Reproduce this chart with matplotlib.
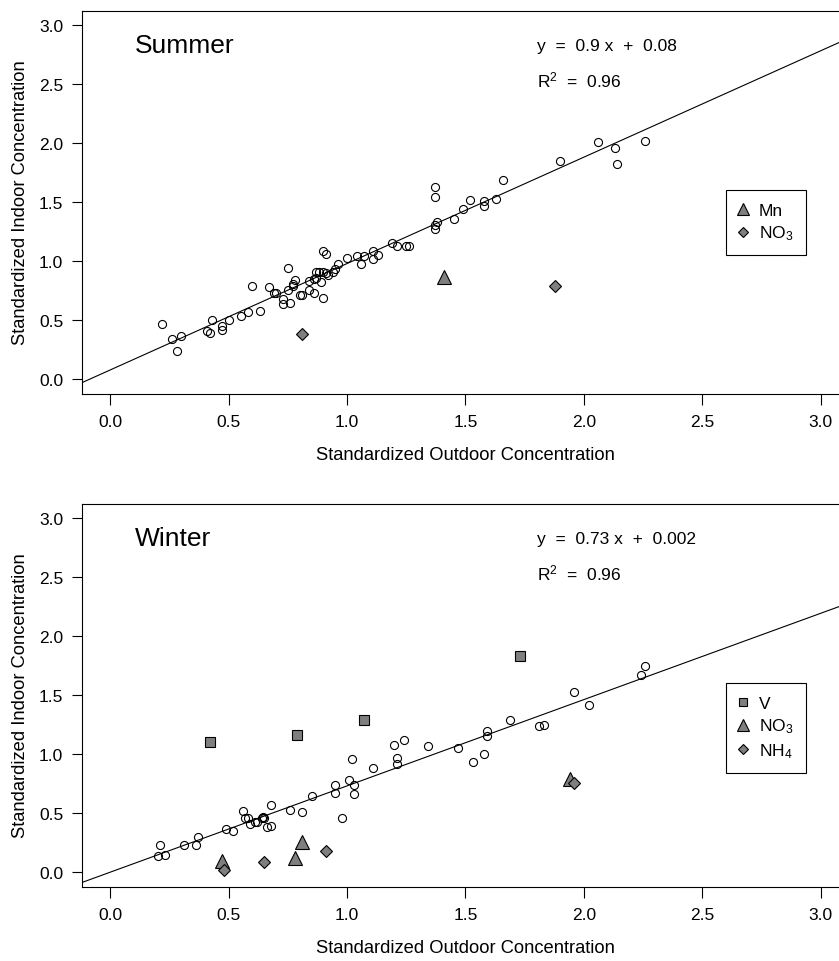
import numpy as np
import matplotlib
matplotlib.use('Agg')
import matplotlib.pyplot as plt

plt.rcParams['font.family'] = ['Liberation Sans', 'DejaVu Sans']
plt.rcParams['mathtext.fontset'] = 'custom'
plt.rcParams['mathtext.rm'] = 'Liberation Sans'
plt.rcParams['mathtext.it'] = 'Liberation Sans:italic'
plt.rcParams['mathtext.default'] = 'regular'

# ---- summer data ----
summer_x = [0.22, 0.26, 0.28, 0.30, 0.41, 0.42, 0.43, 0.47, 0.47, 0.50, 0.55, 0.58,
            0.60, 0.63, 0.67, 0.69, 0.70, 0.73, 0.73, 0.75, 0.75, 0.76, 0.77, 0.77,
            0.78, 0.80, 0.81, 0.84, 0.84, 0.86, 0.86, 0.87, 0.87, 0.88, 0.89, 0.90,
            0.90, 0.91, 0.90, 0.91, 0.92, 0.94, 0.95, 0.96, 1.00, 1.04, 1.06, 1.07,
            1.11, 1.11, 1.13, 1.19, 1.21, 1.25, 1.26, 1.37, 1.37, 1.37, 1.37, 1.38,
            1.45, 1.49, 1.52, 1.58, 1.58, 1.63, 1.66, 1.90, 2.06, 2.13, 2.14, 2.26]
summer_y = [0.47, 0.34, 0.24, 0.37, 0.41, 0.39, 0.50, 0.45, 0.42, 0.50, 0.54, 0.57,
            0.79, 0.58, 0.78, 0.73, 0.73, 0.68, 0.64, 0.94, 0.76, 0.65, 0.79, 0.81,
            0.84, 0.71, 0.71, 0.83, 0.76, 0.85, 0.73, 0.91, 0.86, 0.91, 0.82, 0.91,
            1.09, 1.06, 0.69, 0.90, 0.88, 0.91, 0.93, 0.98, 1.03, 1.04, 0.98, 1.04,
            1.09, 1.02, 1.05, 1.15, 1.13, 1.13, 1.13, 1.63, 1.54, 1.31, 1.27, 1.33,
            1.36, 1.44, 1.52, 1.51, 1.47, 1.53, 1.69, 1.85, 2.01, 1.96, 1.82, 2.02]
summer_mn_x = [1.41]
summer_mn_y = [0.87]
summer_no3_x = [0.81, 1.88]
summer_no3_y = [0.38, 0.79]
summer_fit = (0.9, 0.08)

# ---- winter data ----
winter_x = [0.20, 0.21, 0.23, 0.31, 0.36, 0.37, 0.49, 0.52, 0.56, 0.57, 0.58, 0.59,
            0.61, 0.62, 0.64, 0.645, 0.65, 0.66, 0.68, 0.68, 0.76, 0.81, 0.85, 0.95,
            0.95, 0.98, 1.01, 1.02, 1.03, 1.03, 1.11, 1.20, 1.21, 1.21, 1.24, 1.34,
            1.47, 1.53, 1.58, 1.59, 1.59, 1.69, 1.81, 1.83, 1.96, 2.02, 2.24, 2.26]
winter_y = [0.14, 0.23, 0.15, 0.23, 0.23, 0.30, 0.37, 0.35, 0.52, 0.46, 0.46, 0.41,
            0.43, 0.43, 0.46, 0.47, 0.46, 0.38, 0.39, 0.57, 0.53, 0.51, 0.65, 0.74,
            0.67, 0.46, 0.78, 0.96, 0.74, 0.66, 0.88, 1.08, 0.97, 0.92, 1.12, 1.07,
            1.05, 0.93, 1.00, 1.20, 1.15, 1.29, 1.24, 1.25, 1.53, 1.42, 1.67, 1.75]
winter_v_x = [0.42, 0.79, 1.07, 1.73]
winter_v_y = [1.10, 1.16, 1.29, 1.83]
winter_no3_x = [0.47, 0.78, 0.81, 1.94]
winter_no3_y = [0.10, 0.12, 0.26, 0.79]
winter_nh4_x = [0.48, 0.65, 0.91, 1.96]
winter_nh4_y = [0.02, 0.09, 0.18, 0.76]
winter_fit = (0.73, 0.002)

ticks = [0.0, 0.5, 1.0, 1.5, 2.0, 2.5, 3.0]
fill = '#7f7f7f'

fig = plt.figure(figsize=(8.39, 9.62), dpi=100)
ax_top = fig.add_axes([0.0977, 0.5899, 0.9142, 0.398])
ax_bot = fig.add_axes([0.0977, 0.0774, 0.9142, 0.398])


def setup(ax, season, slope, icpt):
    ax.set_xlim(-0.12, 3.12)
    ax.set_ylim(-0.12, 3.12)
    ax.set_xticks(ticks)
    ax.set_yticks(ticks)
    ax.set_xticklabels(['%.1f' % t for t in ticks])
    ax.set_yticklabels(['%.1f' % t for t in ticks])
    ax.tick_params(axis='x', direction='out', length=8, width=0.8, pad=7, labelsize=12.5)
    ax.tick_params(axis='y', direction='out', length=7.5, width=0.8, pad=6, labelsize=12.5)
    for s in ax.spines.values():
        s.set_linewidth(0.8)
    ax.set_xlabel('Standardized Outdoor Concentration', fontsize=13.2, labelpad=12)
    ax.set_ylabel('Standardized Indoor Concentration', fontsize=13.2, labelpad=7)
    xs = np.array([-0.12, 3.12])
    ax.plot(xs, slope * xs + icpt, color='black', lw=0.8, zorder=1)
    ax.text(0.103, 2.766, season, fontsize=19, ha='left', va='baseline')
    # plotmath-style spacing around the operators
    ax.text(1.803, 2.79, 'y  =  %g x  +  %g' % (slope, icpt), fontsize=12.5,
            ha='left', va='baseline')
    ax.text(1.803, 2.475, r'R$^2$  =  0.96', fontsize=12.5, ha='left', va='baseline')


setup(ax_top, 'Summer', *summer_fit)
ax_top.plot(summer_x, summer_y, 'o', mfc='none', mec='black', ms=5.8, mew=0.8, zorder=2)
ax_top.plot(summer_mn_x, summer_mn_y, '^', mfc=fill, mec='black', ms=9.5, mew=0.8,
            zorder=3, label='Mn')
ax_top.plot(summer_no3_x, summer_no3_y, 'D', mfc=fill, mec='black', ms=6.3, mew=0.8,
            zorder=3, label='NO$_3$')

setup(ax_bot, 'Winter', *winter_fit)
ax_bot.plot(winter_x, winter_y, 'o', mfc='none', mec='black', ms=5.8, mew=0.8, zorder=2)
ax_bot.plot(winter_v_x, winter_v_y, 's', mfc=fill, mec='black', ms=6.7, mew=0.8,
            zorder=3, label='V')
ax_bot.plot(winter_no3_x, winter_no3_y, '^', mfc=fill, mec='black', ms=9.5, mew=0.8,
            zorder=3, label='NO$_3$')
ax_bot.plot(winter_nh4_x, winter_nh4_y, 'D', mfc=fill, mec='black', ms=6.3, mew=0.8,
            zorder=4, label='NH$_4$')

leg_kw = dict(loc='upper left', borderaxespad=0, fontsize=12.5, fancybox=False,
              edgecolor='black', framealpha=1, borderpad=0.72, handlelength=0.48,
              handletextpad=0.7, labelspacing=0.35, markerscale=0.85)
lt = ax_top.legend(bbox_to_anchor=(726 / 839, 1 - 191 / 962),
                   bbox_transform=fig.transFigure, **leg_kw)
lb = ax_bot.legend(bbox_to_anchor=(726 / 839, 1 - 684 / 962),
                   bbox_transform=fig.transFigure, **leg_kw)
for lg in (lt, lb):
    lg.get_frame().set_linewidth(0.8)

fig.savefig('out.png', dpi=100)
